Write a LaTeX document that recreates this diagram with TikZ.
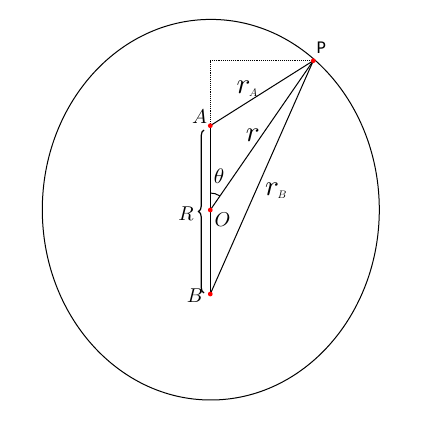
\documentclass[tikz,border=0pt]{standalone}
\usepackage{fontspec}
\usepackage{graphicx}
\newfontfamily\psans{Carlito}
\usetikzlibrary{decorations.pathreplacing}
\newcommand{\lb}[1]{\scalebox{2.0}{$#1$}}
\newcommand{\rsub}[1]{\scalebox{2.9}{$r$}\kern-1.5pt\raisebox{-3pt}{\scalebox{1.1}{$#1$}}}
\begin{document}
\begin{tikzpicture}[x=1pt,y=1pt,
  ln/.style={line width=1pt},
  dotc/.style={circle,fill=red,inner sep=0pt,minimum size=4.8pt},
  lbl/.style={inner sep=0pt}]
\useasboundingbox (0,0) rectangle (421,421);
\draw[ln] (210.8,211.3) ellipse[x radius=168.5,y radius=190.3];
\coordinate (P) at (313.3,360.3);
\coordinate (A) at (210.3,295.3);
\coordinate (O) at (210.3,211);
\coordinate (B) at (210.3,127);
\coordinate (C) at (210.3,360.3);
\draw[line width=0.9pt,densely dotted] (A) -- (C) -- (P);
\draw[ln] (A) -- (P);
\draw[ln] (O) -- (P);
\draw[ln] (B) -- (P);
\draw[ln] (A) -- (B);
\draw[ln] (O) ++(90:17) arc[start angle=90,end angle=55.4,radius=17];
\draw[line width=1.2pt,decorate,decoration={brace,amplitude=5.5pt}] (204,128) -- (204,291);
\node[dotc] (Pd) at (P) {};
\node[dotc] (Ad) at (A) {};
\node[dotc] (Od) at (O) {};
\node[dotc] (Bd) at (B) {};
\node[lbl] (lA) at (199.5,304.5) {\lb{A}};
\node[inner sep=0pt,font=\psans\fontsize{18}{20}\selectfont] (lP) at (321.3,373.5) {P};
\node[lbl,anchor=base west] (lrA) at (236.5,327.5) {\rsub{A}};
\node[lbl] (lr) at (252.7,286) {\scalebox{2.9}{$r$}};
\node[lbl,anchor=base west] (lrB) at (265,225) {\rsub{B}};
\node[lbl] (lt) at (219,245) {\scalebox{2.1}{$\theta$}};
\node[lbl] (lO) at (222.5,201) {\lb{O}};
\node[lbl] (lR) at (186,207) {\lb{R}};
\node[lbl] (lB) at (195,125.5) {\lb{B}};
\end{tikzpicture}
\end{document}
